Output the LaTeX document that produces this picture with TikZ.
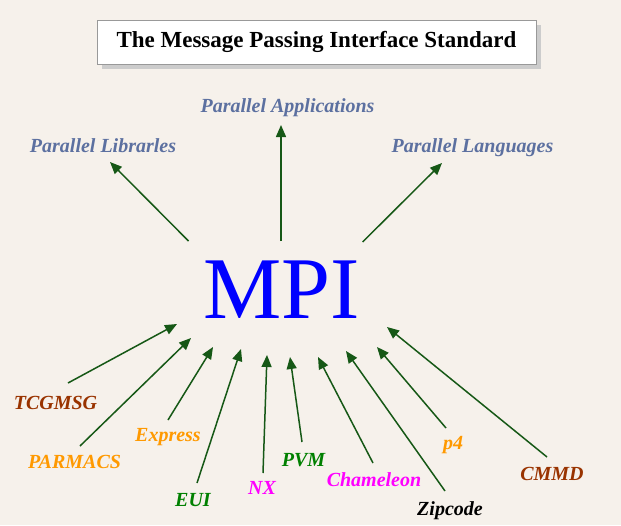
\documentclass[tikz,border=0pt]{standalone}
\usepackage{fontspec}
\setmainfont{Liberation Serif}
\usetikzlibrary{arrows.meta}
\definecolor{bg}{RGB}{246,241,235}
\definecolor{toplbl}{RGB}{92,112,160}
\definecolor{arr}{RGB}{22,88,22}
\definecolor{brn}{RGB}{153,51,0}
\definecolor{org}{RGB}{255,153,0}
\definecolor{grn}{RGB}{0,128,0}
\definecolor{mag}{RGB}{255,0,255}
\begin{document}
\begin{tikzpicture}[x=1pt,y=-1pt,
  lbl/.style={font=\fontsize{20}{24}\selectfont\bfseries\itshape, inner sep=0pt, anchor=mid, yshift=-4pt},
  toplabel/.style={lbl, text=toplbl},
  conn/.style={draw=arr, line width=1.5pt, -{Triangle[length=12pt,width=10pt]}}]
\useasboundingbox (0,0) rectangle (621,525);
\fill[bg] (0,0) rectangle (621,525);
% title
\fill[black!20] (102,25) rectangle (541,69);
\node[draw=black!40, line width=1pt, fill=white, minimum width=439pt, minimum height=44pt, inner sep=0pt,
  font=\fontsize{23}{26}\selectfont\bfseries] (title) at (316.5,42) {The Message Passing Interface Standard};
% MPI
\node[text=blue, font=\fontsize{88}{96}\selectfont, inner sep=0pt, anchor=base] (mpi) at (282,318) {MPI};
% top labels
\node[toplabel] (lib) at (103,146) {Parallel Librarles};
\node[toplabel] (app) at (287.5,106) {Parallel Applications};
\node[toplabel] (lang) at (472.5,146) {Parallel Languages};
% bottom labels
\node[lbl, text=brn] (tcg) at (55.5,403) {TCGMSG};
\node[lbl, text=org] (parm) at (74.5,462) {PARMACS};
\node[lbl, text=org] (expr) at (168,435) {Express};
\node[lbl, text=grn] (eui) at (193,500) {EUI};
\node[lbl, text=mag] (nx) at (262,488) {NX};
\node[lbl, text=grn] (pvm) at (303.5,460) {PVM};
\node[lbl, text=mag] (cham) at (374,480) {Chameleon};
\node[lbl, text=black] (zip) at (450,509) {Zipcode};
\node[lbl, text=org] (pfour) at (453,443) {p4};
\node[lbl, text=brn] (cmmd) at (552,474) {CMMD};
% coordinates
\coordinate (t1s) at (188.5,241); \coordinate (t1e) at (110,162);
\coordinate (t2s) at (281,241);   \coordinate (t2e) at (281,125);
\coordinate (t3s) at (362.6,242); \coordinate (t3e) at (442,163);
\coordinate (b1s) at (68,383);  \coordinate (b1e) at (177,324);
\coordinate (b2s) at (80,446);  \coordinate (b2e) at (191,338);
\coordinate (b3s) at (168,420); \coordinate (b3e) at (213,347);
\coordinate (b4s) at (197,483); \coordinate (b4e) at (241,349);
\coordinate (b5s) at (263,473); \coordinate (b5e) at (267,355);
\coordinate (b6s) at (302,442); \coordinate (b6e) at (290,357);
\coordinate (b7s) at (373,463); \coordinate (b7e) at (318,357);
\coordinate (b8s) at (445,491); \coordinate (b8e) at (346,351);
\coordinate (b9s) at (446,428); \coordinate (b9e) at (377,347);
\coordinate (b10s) at (547,457); \coordinate (b10e) at (387,327);
\foreach \a in {t1,t2,t3,b1,b2,b3,b4,b5,b6,b7,b8,b9,b10}
  \draw[conn] (\a s) -- (\a e);
\end{tikzpicture}
\end{document}
